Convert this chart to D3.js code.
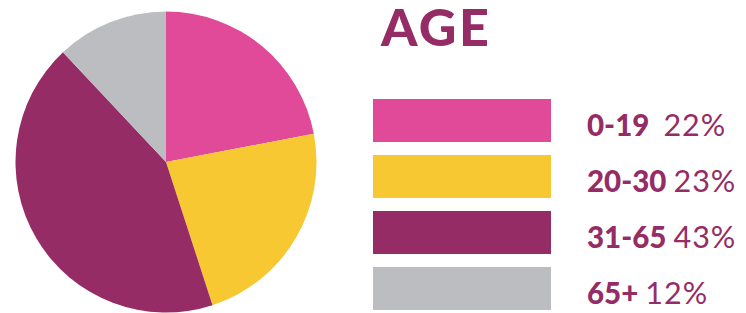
<!DOCTYPE html>
<html>
<head>
<meta charset="utf-8">
<script src="https://cdn.jsdelivr.net/npm/d3@7"></script>
<style>
  html, body { margin: 0; padding: 0; background: #fff; }
  svg { display: block; }
</style>
</head>
<body>
<svg id="chart" width="746" height="313"></svg>
<script>
const title = "AGE";
const categories = ["0-19", "20-30", "31-65", "65+"];
const values = [22, 23, 43, 12];
const colors = ["#e14a98", "#f7c832", "#952c66", "#bcbdc0"];
const textColor = "#952c66";

const svg = d3.select("#chart");

// Pie
const cx = 166, cy = 162, r = 150.5;
const pie = d3.pie().sort(null).value(d => d.v);
const arc = d3.arc().innerRadius(0).outerRadius(r);
const data = categories.map((c, i) => ({ c, v: values[i], col: colors[i] }));
svg.append("g")
  .attr("transform", `translate(${cx},${cy})`)
  .selectAll("path")
  .data(pie(data))
  .join("path")
  .attr("d", arc)
  .attr("fill", d => d.data.col);

// Title
svg.append("text")
  .attr("x", 381)
  .attr("y", 46)
  .attr("font-family", "Lato, sans-serif")
  .attr("font-weight", 900)
  .attr("font-size", 52)
  .attr("letter-spacing", 2.5)
  .attr("fill", textColor)
  .text(title);

// Legend
const y = d3.scaleBand().domain(categories).range([99, 99 + 56 * 4 - 13]).paddingInner(13 / 56).paddingOuter(0);
const leg = svg.append("g");
data.forEach((d, i) => {
  const y0 = y(d.c);
  const bh = y.bandwidth();
  leg.append("rect")
    .attr("x", 373).attr("y", y0)
    .attr("width", 178).attr("height", bh)
    .attr("fill", d.col);
  const t = leg.append("text")
    .attr("x", 587).attr("y", y0 + bh / 2 + 15)
    .attr("font-family", "Lato, sans-serif")
    .attr("font-size", 29.5)
    .attr("fill", textColor)
    .attr("xml:space", "preserve");
  t.append("tspan").attr("font-weight", 900).text(d.c + (i === 0 ? "\u00a0\u00a0" : "\u00a0"));
  t.append("tspan").attr("font-weight", 400).attr("font-size", 30.5).attr("letter-spacing", 1).text(d.v + "%");
});
</script>
</body>
</html>
